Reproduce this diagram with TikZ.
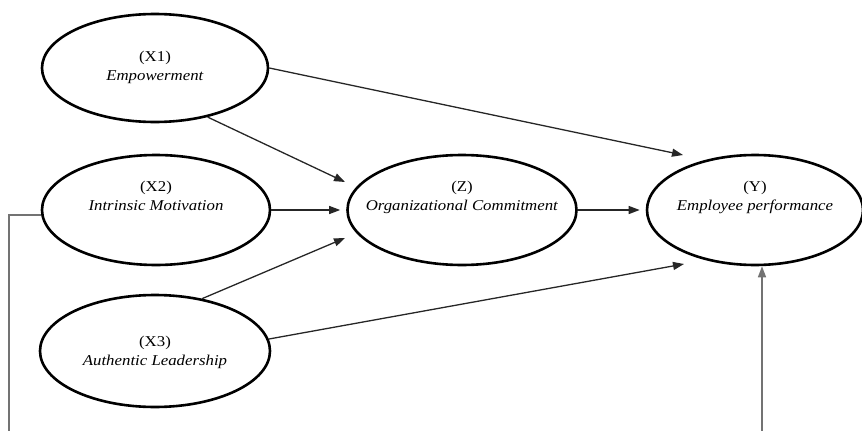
\documentclass[tikz,border=0pt]{standalone}
\usepackage{fontspec}
\setmainfont{Liberation Serif}[FakeStretch=1.12]
\usetikzlibrary{arrows.meta,shapes.geometric}
\newcommand{\latentlbl}[3][0pt]{\makebox[0pt]{\raisebox{#1}[0pt][0pt]{\begin{tabular}{@{}c@{}}#2\\\textit{#3}\end{tabular}}}}
\tikzset{
  lv/.style={ellipse,draw=black,line width=2.6pt,fill=white,inner sep=0pt,font=\fontsize{15}{19}\selectfont},
  ar/.style={-{Triangle[length=11pt,width=8pt]},draw=black!85,line width=1.3pt},
  loopar/.style={ar,draw=black!55,line width=1.6pt},
}

\begin{document}
\begin{tikzpicture}[x=1pt,y=-1pt]
  \useasboundingbox (0,0) rectangle (862,431);
  % latent variables
  \node[lv,minimum width=226,minimum height=108] (X1) at (155,68) {\latentlbl[-3pt]{(X1)}{Empowerment}};
  \node[lv,minimum width=228,minimum height=110] (X2) at (156,210) {\latentlbl[9pt]{(X2)}{Intrinsic Motivation}};
  \node[lv,minimum width=230,minimum height=112] (X3) at (155,351) {\latentlbl[-5pt]{(X3)}{Authentic Leadership}};
  \node[lv,minimum width=229,minimum height=110] (Z) at (462,210) {\latentlbl[9pt]{(Z)}{Organizational Commitment}};
  \node[lv,minimum width=216,minimum height=110] (Y) at (755,210) {\latentlbl[9pt]{(Y)}{Employee performance}};
  % arrow ends
  \coordinate (zIn1) at ([shift={(-117,-28)}]Z.center);
  \coordinate (zIn3) at ([shift={(-117,28)}]Z.center);
  \coordinate (yIn1) at ([shift={(-72,-55)}]Y.center);
  \coordinate (yIn3) at ([shift={(-71,54)}]Y.center);
  \coordinate (loopL) at (9,445);
  \coordinate (loopR) at (762,445);
  % paths
  \draw[ar] (X1.east) -- (yIn1);
  \draw[ar] (X1.-43) -- (zIn1);
  \draw[ar,shorten >=6pt] (X2) -- (Z);
  \draw[ar] (X3.48) -- (zIn3);
  \draw[ar] (X3.6) -- (yIn3);
  \draw[ar,shorten >=6pt] (Z) -- (Y);
  \begin{scope}
    \clip (0,0) rectangle (862,431);
    \draw[loopar] ([yshift=-5pt]X2.west) -| (loopL) -- (loopR) -- (loopR |- Y.south);
  \end{scope}
\end{tikzpicture}
\end{document}
